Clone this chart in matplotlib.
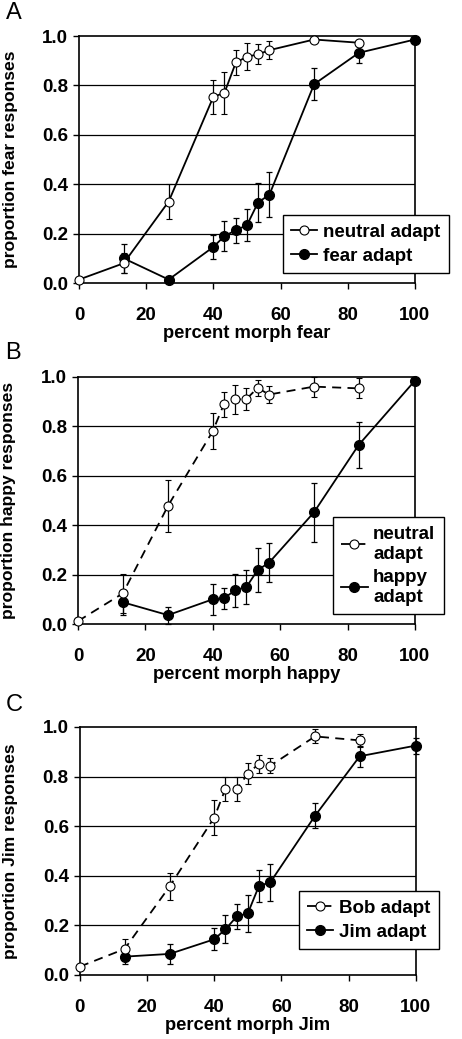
import numpy as np
import matplotlib
matplotlib.use('Agg')
import matplotlib.pyplot as plt
from matplotlib.lines import Line2D

plt.rcParams['font.family'] = ['Liberation Sans', 'DejaVu Sans']

# morph levels (percent)
x_all = [0, 13.3, 26.7, 40, 43.3, 46.7, 50, 53.3, 56.7, 70, 83.3, 100]
x_neu = x_all[:11]
x_adp = x_all[1:]

# panel A: fear
a_neu = [0.014, 0.08, 0.33, 0.754, 0.77, 0.893, 0.916, 0.926, 0.943, 0.986, 0.973]
a_neu_err = [0.0, 0.04, 0.07, 0.07, 0.085, 0.05, 0.055, 0.04, 0.035, 0.0, 0.01]
a_adp = [0.10, 0.014, 0.146, 0.19, 0.214, 0.234, 0.326, 0.358, 0.805, 0.932, 0.986]
a_adp_err = [0.06, 0.0, 0.05, 0.06, 0.05, 0.065, 0.08, 0.09, 0.065, 0.04, 0.0]

# panel B: happy
b_neu = [0.012, 0.124, 0.478, 0.78, 0.889, 0.908, 0.91, 0.955, 0.928, 0.96, 0.953]
b_neu_err = [0.0, 0.08, 0.105, 0.073, 0.05, 0.06, 0.045, 0.033, 0.033, 0.04, 0.04]
b_adp = [0.088, 0.036, 0.10, 0.104, 0.137, 0.15, 0.218, 0.248, 0.451, 0.724, 0.984]
b_adp_err = [0.05, 0.034, 0.063, 0.043, 0.067, 0.07, 0.09, 0.08, 0.12, 0.092, 0.0]

# panel C: identity (Bob / Jim)
c_neu = [0.034, 0.105, 0.357, 0.635, 0.75, 0.75, 0.812, 0.852, 0.844, 0.962, 0.946]
c_neu_err = [0.0, 0.042, 0.054, 0.072, 0.047, 0.047, 0.042, 0.037, 0.03, 0.028, 0.025]
c_adp = [0.074, 0.085, 0.144, 0.184, 0.236, 0.249, 0.359, 0.374, 0.642, 0.882, 0.925]
c_adp_err = [0.028, 0.042, 0.045, 0.056, 0.05, 0.075, 0.065, 0.074, 0.05, 0.042, 0.032]

panels = [
    dict(letter='A', neu=a_neu, neu_err=a_neu_err, adp=a_adp, adp_err=a_adp_err,
         neu_label='neutral adapt', adp_label='fear adapt', dashed=False,
         xlabel='percent morph fear', ylabel='proportion fear responses',
         rect=[0.171, 0.7276, 0.727, 0.2377], letter_y=0.9875, leg=(1.101, 0.04)),
    dict(letter='B', neu=b_neu, neu_err=b_neu_err, adp=b_adp, adp_err=b_adp_err,
         neu_label='neutral\nadapt', adp_label='happy\nadapt', dashed=True,
         xlabel='percent morph happy', ylabel='proportion happy responses',
         rect=[0.169, 0.3994, 0.729, 0.238], letter_y=0.660, leg=(1.086, 0.04)),
    dict(letter='C', neu=c_neu, neu_err=c_neu_err, adp=c_adp, adp_err=c_adp_err,
         neu_label='Bob adapt', adp_label='Jim adapt', dashed=True,
         xlabel='percent morph Jim', ylabel='proportion Jim responses',
         rect=[0.173, 0.0616, 0.727, 0.2387], letter_y=0.3215, leg=(1.068, 0.105)),
]

fig = plt.figure(figsize=(4.62, 10.39), dpi=100)

for p in panels:
    ax = fig.add_axes(p['rect'])
    for yv in [0.2, 0.4, 0.6, 0.8]:
        ax.axhline(yv, color='black', lw=0.9, zorder=1)
    ls = (0, (5, 3.5)) if p['dashed'] else '-'
    ax.errorbar(x_adp, p['adp'], yerr=p['adp_err'], color='black', lw=1.3,
                elinewidth=0.9, capsize=2.5, capthick=0.9, marker='o', ms=7,
                mfc='black', mec='black', zorder=3, clip_on=False)
    ax.errorbar(x_neu, p['neu'], yerr=p['neu_err'], color='black', lw=1.3,
                ls=ls, elinewidth=0.9, capsize=2.5, capthick=0.9, marker='o',
                ms=6.5, mfc='white', mec='black', mew=0.8, zorder=4,
                clip_on=False)
    ax.set_xlim(0, 100)
    ax.set_ylim(0, 1.0)
    ax.set_xticks([0, 20, 40, 60, 80, 100])
    ax.set_yticks([0.0, 0.2, 0.4, 0.6, 0.8, 1.0])
    ax.set_yticklabels(['0.0', '0.2', '0.4', '0.6', '0.8', '1.0'])
    ax.tick_params(axis='both', direction='out', length=4, width=1,
                   labelsize=13.5)
    ax.tick_params(axis='x', pad=13)
    ax.tick_params(axis='y', pad=4)
    for lab in ax.get_xticklabels() + ax.get_yticklabels():
        lab.set_fontweight('bold')
    for s in ax.spines.values():
        s.set_linewidth(1.2)
    ax.set_xlabel(p['xlabel'], fontsize=13.2, fontweight='bold', labelpad=1)
    ax.set_ylabel(p['ylabel'], fontsize=12.6, fontweight='bold')
    ax.yaxis.set_label_coords(-0.183, 0.5)

    h = [Line2D([], [], color='black', lw=1.3, ls=ls, marker='o', ms=6.5,
                mfc='white', mec='black', mew=0.8),
         Line2D([], [], color='black', lw=1.3, marker='o', ms=7,
                mfc='black', mec='black')]
    leg = ax.legend(h, [p['neu_label'], p['adp_label']], loc='lower right',
                    bbox_to_anchor=p['leg'], fancybox=False, edgecolor='black',
                    framealpha=1, prop={'weight': 'bold', 'size': 13.5},
                    handlelength=1.4, handletextpad=0.3, borderpad=0.45,
                    labelspacing=0.35, borderaxespad=0)
    leg.get_frame().set_linewidth(1.0)
    leg.set_zorder(10)

    fig.text(0.012, p['letter_y'], p['letter'], fontsize=17, va='center',
             ha='left')

fig.savefig('out.png', dpi=100)
